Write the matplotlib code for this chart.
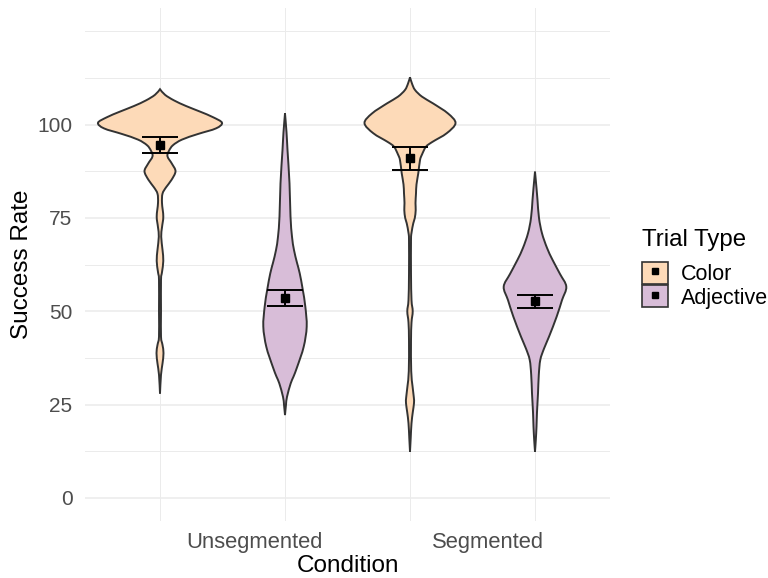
import numpy as np
import matplotlib
matplotlib.use("Agg")
import matplotlib.pyplot as plt
from matplotlib.path import Path
from matplotlib.patches import PathPatch, Patch
from matplotlib.lines import Line2D

plt.rcParams["font.family"] = ["Liberation Sans", "DejaVu Sans"]

conditions = ["Unsegmented", "Segmented"]
trial_types = ["Color", "Adjective"]
fills = {"Color": "#FDDAB8", "Adjective": "#D8BDD8"}

# violin outlines: success rate (top -> bottom) and half-width (x units)
uc_y = [109.5, 108, 106.5, 105, 103.5, 102, 100.5, 99, 97.5, 96, 94.5, 93, 91.5, 89.5,
        87.5, 85.2, 83.2, 81.5, 79, 75.4, 72.5, 70, 66.5, 63.5, 60.5, 58.4, 50, 43.2,
        41, 38.8, 36, 33, 28]
uc_w = [0, 5, 14, 26, 40, 53, 62, 56, 38, 22, 13, 9, 7.5, 12,
        15.5, 11.5, 6, 2.5, 2, 3.3, 2, 1.2, 2.5, 3.3, 2, 1, 1, 1,
        2.5, 3.5, 2.5, 1, 0]
ua_y = [103, 98, 93.2, 84.3, 75.4, 70, 66.4, 63, 60.2, 55.9, 51.3, 45.9, 40.5, 35.2,
        32.5, 30.7, 27.1, 25, 22.2]
ua_w = [0, 1.5, 2.5, 4.5, 5.5, 7, 9, 12, 14.7, 17.7, 20.3, 21.7, 18.7, 12.3,
        8.5, 5.7, 2, 1, 0]
sc_y = [112.7, 111, 109.3, 107.5, 105.7, 103, 100.4, 97.7, 95.4, 94.1, 92, 90.5, 87,
        84, 81.6, 79, 77.1, 75, 73.6, 71, 69, 60, 53, 50, 47, 42, 34, 30, 27, 25.4,
        23, 20, 16, 12.4]
sc_w = [0, 2, 5, 12, 23, 38, 45.5, 36.7, 22.5, 16, 12, 10, 8.3,
        6.5, 6, 5.5, 5.7, 4.8, 3.3, 1.5, 1, 1, 1.5, 2.7, 1.5, 1, 1.2, 2.5, 3.8, 4,
        2.8, 1.5, 0.7, 0]
sa_y = [87.4, 83, 79.8, 75, 70.9, 67, 63.8, 60, 56.6, 53, 48.6, 43.2, 40, 37,
        33, 28, 23, 19.1, 15.5, 12.4]
sa_w = [0, 1.5, 2.5, 4, 7, 12, 17.5, 25, 31.3, 27, 21.7, 14, 9, 5.3,
        3.8, 3, 2, 1.5, 0.8, 0]

# means with error bar limits, order: UC, UA, SC, SA
means = [94.6, 53.5, 91.0, 52.8]
err_lo = [92.4, 51.3, 87.9, 51.0]
err_hi = [96.7, 55.7, 94.1, 54.4]

profiles = [(uc_y, uc_w), (ua_y, ua_w), (sc_y, sc_w), (sa_y, sa_w)]
types = ["Color", "Adjective", "Color", "Adjective"]
xpos = [0.75, 1.25, 1.75, 2.25]
W_SCALE = 1 / 250.0  # outline widths were read in pixels


def side_curve(pts):
    # Catmull-Rom through the points, returned as cubic bezier vertices
    p = np.vstack([pts[0], pts, pts[-1]])
    verts = []
    for i in range(1, len(p) - 2):
        p0, p1, p2, p3 = p[i - 1], p[i], p[i + 1], p[i + 2]
        verts += [p1 + (p2 - p0) / 6, p2 - (p3 - p1) / 6, p2]
    return verts


def violin_path(x0, ys, ws):
    ys = np.asarray(ys, float)
    ws = np.asarray(ws, float) * W_SCALE
    right = np.column_stack([x0 + ws, ys])
    left = np.column_stack([x0 - ws, ys])[::-1]
    verts = [right[0]] + side_curve(right) + side_curve(left) + [right[0]]
    codes = [Path.MOVETO] + [Path.CURVE4] * (len(verts) - 2) + [Path.CLOSEPOLY]
    return Path(verts, codes)


fig = plt.figure(figsize=(7.68, 5.78), dpi=100)
ax = fig.add_axes([85 / 768, 1 - 521.3 / 578, 525 / 768, 513.3 / 578])

for x0, (ys, ws), t in zip(xpos, profiles, types):
    ax.add_patch(PathPatch(violin_path(x0, ys, ws), facecolor=fills[t],
                           edgecolor="#333333", lw=1.4, zorder=2))

means = np.array(means)
yerr = np.vstack([means - np.array(err_lo), np.array(err_hi) - means])
ax.errorbar(xpos, means, yerr=yerr, fmt="s", color="black", ms=6,
            elinewidth=1.4, capsize=13.2, capthick=1.4, zorder=3)

ax.set_xlim(0.45, 2.55)
ax.set_ylim(-6.25, 131.25)
ax.set_yticks([0, 25, 50, 75, 100])
ax.set_yticks([12.5, 37.5, 62.5, 87.5, 112.5, 125], minor=True)
ax.set_xticks([1.126, 2.061])
ax.set_xticklabels(conditions)
ax.set_xticks(xpos, minor=True)
ax.grid(True, which="major", axis="y", color="#EBEBEB", lw=1.1, zorder=0)
ax.grid(True, which="minor", axis="both", color="#EBEBEB", lw=0.7, zorder=0)
ax.set_axisbelow(True)
for s in ax.spines.values():
    s.set_visible(False)
ax.tick_params(which="both", length=0)
ax.tick_params(axis="y", labelsize=15, labelcolor="#4D4D4D", pad=9)
ax.tick_params(axis="x", labelsize=15.8, labelcolor="#4D4D4D", pad=8)
ax.set_xlabel("Condition", fontsize=17.5, labelpad=1)
ax.set_ylabel("Success Rate", fontsize=17.5, labelpad=3)

handles = [(Patch(facecolor=fills[t], edgecolor="#333333", lw=1.2),
            Line2D([], [], marker="s", color="black", ls="none", ms=5))
           for t in trial_types]
leg = fig.legend(handles, trial_types, title="Trial Type", loc="upper left",
                 bbox_to_anchor=(642 / 768, 1 - 229 / 578), frameon=False,
                 fontsize=15.5, title_fontsize=17.3, handlelength=1.2, handleheight=1.2,
                 labelspacing=0.0, handletextpad=0.6, borderpad=0, borderaxespad=0,
                 alignment="left")
leg._legend_box.sep = 8

fig.savefig("out.png", dpi=100)
